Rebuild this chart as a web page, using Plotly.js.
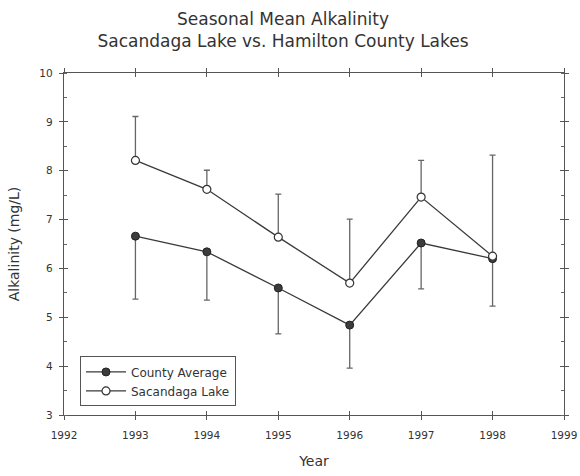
<!DOCTYPE html>
<html><head><meta charset="utf-8">
<script src="https://cdn.plot.ly/plotly-3.0.1.min.js"></script>
<style>html,body{margin:0;padding:0;background:#fff}#c{width:580px;height:476px}</style>
</head><body><div id="c"></div>
<script>
const years = [1993, 1994, 1995, 1996, 1997, 1998];
const countyAvg = [6.66, 6.34, 5.6, 4.84, 6.52, 6.2];
const countyErrDown = [1.29, 0.99, 0.94, 0.88, 0.94, 0.97];
const sacandaga = [8.21, 7.62, 6.64, 5.7, 7.46, 6.25];
const sacandagaErrUp = [0.9, 0.39, 0.88, 1.31, 0.75, 2.07];
const xTicks = [1992, 1993, 1994, 1995, 1996, 1997, 1998, 1999];
const yTicks = [3, 4, 5, 6, 7, 8, 9, 10];
const zeros = years.map(() => 0);

const lineCol = '#3a3a3a';
const errCol = '#666';
const font = 'DejaVu Sans, Liberation Sans, sans-serif';
const txtCol = '#333';

const traces = [
  {
    x: years, y: countyAvg, name: 'County Average', type: 'scatter', mode: 'lines+markers',
    line: {color: lineCol, width: 1.3},
    marker: {symbol: 'circle', size: 8, color: '#3c3c3c', line: {color: '#222', width: 1}},
    error_y: {type: 'data', symmetric: false, array: zeros, arrayminus: countyErrDown,
              color: errCol, thickness: 1.3, width: 3}
  },
  {
    x: years, y: sacandaga, name: 'Sacandaga Lake', type: 'scatter', mode: 'lines+markers',
    line: {color: lineCol, width: 1.3},
    marker: {symbol: 'circle', size: 8, color: '#fff', line: {color: '#333', width: 1.2}},
    error_y: {type: 'data', symmetric: false, array: sacandagaErrUp, arrayminus: zeros,
              color: errCol, thickness: 1.3, width: 3}
  },
  {x: [1992], y: [3], xaxis: 'x2', yaxis: 'y2', mode: 'markers', marker: {opacity: 0}, showlegend: false, hoverinfo: 'skip'}
];

const axisBase = {
  showgrid: false, zeroline: false, showline: true, linecolor: '#555', linewidth: 1.2,
  ticks: 'outside', ticklen: 4, tickwidth: 1, tickcolor: '#555', mirror: 'allticks',
  tickfont: {family: font, size: 10.5, color: txtCol}
};

const layout = {
  width: 580, height: 476,
  margin: {l: 64, r: 16, t: 73, b: 61},
  paper_bgcolor: '#fff', plot_bgcolor: '#fff',
  title: {
    text: 'Seasonal Mean Alkalinity<br>Sacandaga Lake vs. Hamilton County Lakes',
    font: {family: font, size: 17, color: txtCol},
    x: 0.488, xanchor: 'center', y: 0.948, yanchor: 'top'
  },
  xaxis: Object.assign({}, axisBase, {
    range: [1992, 1999], tickvals: xTicks, ticktext: xTicks.map(String),
    ticklabelstandoff: 6,
    title: {text: 'Year', font: {family: font, size: 14, color: txtCol}, standoff: 16}
  }),
  yaxis: Object.assign({}, axisBase, {
    range: [3, 10], tickvals: yTicks, ticktext: yTicks.map(String),
    ticklabelstandoff: 4,
    minor: {dtick: 0.5, ticks: 'inside', ticklen: 3, tickcolor: '#666'},
    title: {text: 'Alkalinity (mg/L)', font: {family: font, size: 14, color: txtCol}, standoff: 16}
  }),
  xaxis2: {overlaying: 'x', range: [1992, 1999], tickvals: xTicks, showticklabels: false,
           ticks: 'inside', ticklen: 4, tickcolor: '#555', showgrid: false, zeroline: false,
           showline: false, mirror: 'allticks', anchor: 'y2'},
  yaxis2: {overlaying: 'y', range: [3, 10], tickvals: yTicks, showticklabels: false,
           ticks: 'inside', ticklen: 4, tickcolor: '#555', showgrid: false, zeroline: false,
           showline: false, mirror: 'allticks', anchor: 'x2'},
  legend: {
    x: 0.032, y: 0.025, xanchor: 'left', yanchor: 'bottom',
    bgcolor: '#fff', bordercolor: '#555', borderwidth: 1,
    font: {family: font, size: 12, color: txtCol},
    tracegroupgap: 0, itemwidth: 40
  },
  showlegend: true
};

Plotly.newPlot('c', traces, layout, {staticPlot: true, displayModeBar: false});
</script>
</body></html>
